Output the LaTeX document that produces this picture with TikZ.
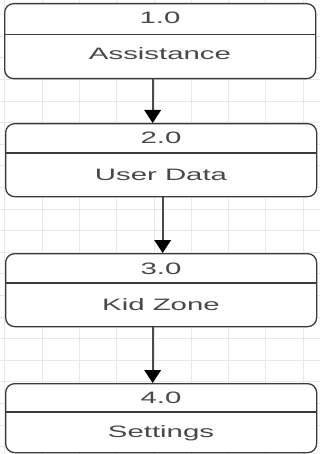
\documentclass[tikz,border=0pt]{standalone}
\usepackage{fontspec}
\setmainfont{Liberation Sans}
\usetikzlibrary{arrows.meta}
\definecolor{boxline}{HTML}{3A3A3A}
\definecolor{txtgray}{HTML}{484848}
\definecolor{gridgray}{HTML}{E8E8E8}
\definecolor{shaftgray}{HTML}{4A4A4A}
\begin{document}
\begin{tikzpicture}[x=1pt,y=-1pt,
  gridline/.style={draw=gridgray, line width=0.8pt},
  boxshape/.style={draw=boxline, line width=1.3pt, fill=white, rounded corners=9pt,
    minimum width=311pt, inner sep=0pt, anchor=north west},
  divline/.style={draw=boxline, line width=1.1pt},
  boxtext/.style={text=txtgray, inner sep=0pt, anchor=base,
    font=\fontsize{16.5}{19}\selectfont},
  flow/.style={draw=shaftgray, line width=1.8pt,
    -{Triangle[length=13pt,width=17pt,color=black,line width=0pt]}}
]
\useasboundingbox (0,0) rectangle (320,454);
\fill[white] (0,0) rectangle (320,454);
% background grid
\foreach \i in {0,...,8} \draw[gridline] ({4.7+37.3*\i},0) -- ({4.7+37.3*\i},454);
\foreach \j in {0,...,20} \draw[gridline] (0,{14.6+21.6*\j}) -- (320,{14.6+21.6*\j});
% boxes
\node[boxshape, minimum height=75pt] (b1) at (4,3) {};
\node[boxshape, minimum height=73pt] (b2) at (5,123) {};
\node[boxshape, minimum height=73pt] (b3) at (5,253) {};
\node[boxshape, minimum height=69pt] (b4) at (5,383) {};
% dividers
\draw[divline] (b1.west |- 0,34.5) -- (b1.east |- 0,34.5);
\draw[divline] (b2.west |- 0,153) -- (b2.east |- 0,153);
\draw[divline] (b3.west |- 0,283) -- (b3.east |- 0,283);
\draw[divline] (b4.west |- 0,412) -- (b4.east |- 0,412);
% texts
\node[boxtext] (n1) at (160,24) {\scalebox{1.78}[1]{1.0}};
\node[boxtext] (l1) at (160,59.5) {\scalebox{1.78}[1]{Assistance}};
\node[boxtext] (n2) at (161,144) {\scalebox{1.78}[1]{2.0}};
\node[boxtext] (l2) at (161,180.5) {\scalebox{1.78}[1]{User Data}};
\node[boxtext] (n3) at (161,274) {\scalebox{1.78}[1]{3.0}};
\node[boxtext] (l3) at (161,310) {\scalebox{1.78}[1]{Kid Zone}};
\node[boxtext] (n4) at (161,403) {\scalebox{1.78}[1]{4.0}};
\node[boxtext] (l4) at (161,437) {\scalebox{1.78}[1]{Settings}};
% connectors
\draw[flow] ([xshift=-7.5pt]b1.south) -- ([xshift=-7.5pt]b1.south |- b2.north);
\draw[flow] ([xshift=1.5pt]b2.south) -- ([xshift=1.5pt]b2.south |- b3.north);
\draw[flow] ([xshift=-8.5pt]b3.south) -- ([xshift=-8.5pt]b3.south |- b4.north);
\end{tikzpicture}
\end{document}
